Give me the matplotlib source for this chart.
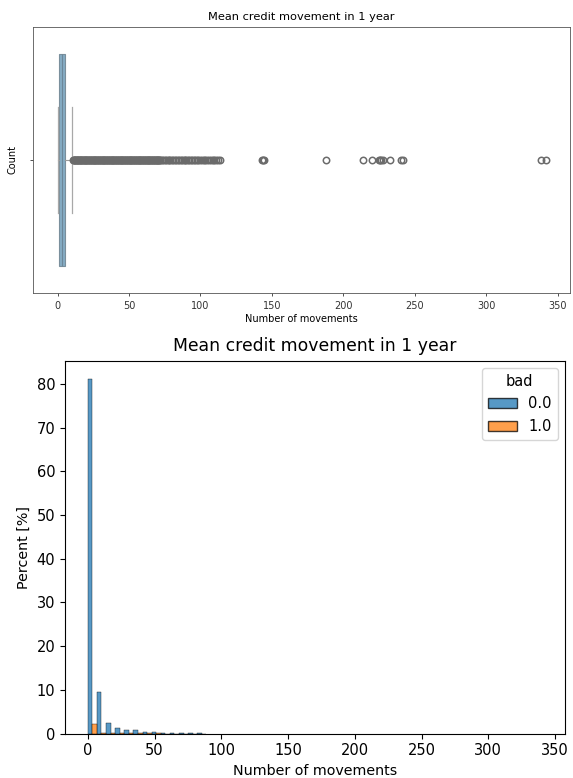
import numpy as np
import matplotlib
matplotlib.use("Agg")
import matplotlib.pyplot as plt
from matplotlib.patches import Patch

# ---- data -------------------------------------------------------------
title = "Mean credit movement in 1 year"
xlabel = "Number of movements"

# box statistics of the mean yearly credit movements
box_q1 = 1.1
box_median = 2.8
box_q3 = 5.1
whisker_low = 0.0
whisker_high = 10.2
outliers = [
    10.8, 11.2, 11.6, 12.0, 12.4, 12.9, 13.3, 13.7, 14.1, 14.6, 15.0, 15.4,
    15.9, 16.3, 16.7, 17.1, 17.6, 18.0, 18.5, 18.9, 19.3, 19.8, 20.2, 20.7,
    21.1, 21.6, 22.0, 22.5, 22.9, 23.4, 23.8, 24.3, 24.7, 25.2, 25.6, 26.1,
    26.5, 27.0, 27.4, 27.9, 28.3, 28.8, 29.2, 29.7, 30.1, 30.6, 31.0, 31.5,
    31.9, 32.4, 32.8, 33.3, 33.7, 34.2, 34.6, 35.1, 35.5, 36.0, 36.4, 36.9,
    37.3, 37.8, 38.2, 38.7, 39.1, 39.6, 40.0, 40.5, 40.9, 41.4, 41.8, 42.3,
    42.7, 43.2, 43.6, 44.1, 44.5, 45.0, 45.4, 45.9, 46.3, 46.8, 47.2, 47.7,
    48.1, 48.6, 49.0, 49.5, 49.9, 50.4, 50.8, 51.3, 51.7, 52.2, 52.6, 53.1,
    53.5, 54.0, 54.4, 54.9, 55.3, 55.8, 56.2, 56.7, 57.1, 57.6, 58.0, 58.5,
    58.9, 59.4, 59.8, 60.3, 60.7, 61.2, 61.6, 62.1, 62.5, 63.0, 63.4, 63.9,
    64.3, 64.8, 65.2, 65.7, 66.1, 66.6, 67.0, 67.5, 67.9, 68.4, 68.8, 69.3,
    69.7, 70.2, 70.6, 71.1, 71.5, 72.0,
    73.0, 74.0, 75.1, 76.0, 77.2, 78.1, 79.0, 80.2, 81.0, 82.1, 83.0, 84.2,
    85.0, 86.1, 87.0, 88.3, 89.2, 90.1, 91.4, 92.2, 93.5, 94.3, 95.6, 96.4,
    97.7, 98.6, 100.0, 101.2, 102.5, 103.4, 104.6, 106.0, 107.3, 108.5,
    109.8, 111.0, 112.5, 113.5,
    143.0, 143.6, 144.2, 188.0, 213.5, 220.0, 224.8, 225.6, 226.4, 227.4,
    232.8, 240.6, 241.4, 338.5, 341.5,
]

# histogram (percent of all accounts) per bin, split by the "bad" flag
bin_width = 6.83
percent_good = [81.2, 9.6, 2.5, 1.3, 0.9, 0.7, 0.45, 0.25, 0.2, 0.15, 0.12, 0.1, 0.08]
percent_bad = [2.1, 0.2, 0.07, 0.04, 0.03, 0.02, 0.01, 0.01, 0.0, 0.0, 0.0, 0.0, 0.0]
hue_title = "bad"
hue_labels = ["0.0", "1.0"]
x_ticks = [0, 50, 100, 150, 200, 250, 300, 350]
y_ticks = [0, 10, 20, 30, 40, 50, 60, 70, 80]

# ---- figure -----------------------------------------------------------
fig = plt.figure(figsize=(5.73, 7.78), dpi=100)
W, H = 573, 778


def axes_px(left, top, right, bottom):
    return fig.add_axes([left / W, 1 - bottom / H, (right - left) / W, (bottom - top) / H])


# top panel: horizontal box plot
ax1 = axes_px(32.5, 27, 570, 293)
stats = [dict(med=box_median, q1=box_q1, q3=box_q3,
              whislo=whisker_low, whishi=whisker_high, fliers=outliers)]
ax1.bxp(stats, positions=[0], widths=0.8, vert=False, patch_artist=True,
        boxprops=dict(facecolor="#85acc4", edgecolor="#7a8f9c", linewidth=0.8),
        whiskerprops=dict(color="#9a9a9a", linewidth=0.8),
        capprops=dict(color="#a8a8a8", linewidth=0.9),
        medianprops=dict(color="#6c8799", linewidth=0.8),
        flierprops=dict(marker="o", markersize=4.6, markerfacecolor="none",
                        markeredgecolor="#6b6b6b", markeredgewidth=1.1),
        capwidths=0.4)
ax1.set_ylim(0.5, -0.5)
ax1.set_xlim(-17.5, 358.5)
ax1.set_yticks([0])
ax1.set_yticklabels([""])
ax1.set_xticks(x_ticks)
ax1.tick_params(labelsize=7, length=2.5, width=0.6, colors="#333333")
ax1.set_ylabel("Count", fontsize=7, labelpad=5)
ax1.set_xlabel(xlabel, fontsize=7, labelpad=2)
ax1.set_title(title, fontsize=8.2, pad=5)
for s in ax1.spines.values():
    s.set_linewidth(0.6)
    s.set_color("#555555")

# bottom panel: dodged histogram
ax2 = axes_px(65, 361, 565, 733.5)
bin_left = np.arange(len(percent_good)) * bin_width
half = bin_width / 2
ax2.bar(bin_left, percent_good, width=half, align="edge", color="#1f77b4",
        alpha=0.75, edgecolor="black", linewidth=0.35)
ax2.bar(bin_left + half, percent_bad, width=half, align="edge", color="#ff7f0e",
        alpha=0.75, edgecolor="black", linewidth=0.35)
ax2.set_xlim(-17.1, 357.5)
ax2.set_ylim(0, 85.3)
ax2.set_xticks(x_ticks)
ax2.set_yticks(y_ticks)
ax2.tick_params(labelsize=10.5)
ax2.set_xlabel(xlabel, fontsize=10.3)
ax2.set_ylabel("Percent [%]", fontsize=10.3)
ax2.set_title(title, fontsize=12.4, pad=7)
handles = [Patch(facecolor="#1f77b4", alpha=0.75, edgecolor="black", linewidth=1),
           Patch(facecolor="#ff7f0e", alpha=0.75, edgecolor="black", linewidth=1)]
ax2.legend(handles, hue_labels, title=hue_title, loc="upper right",
           fontsize=10.5, title_fontsize=10.5)

fig.savefig("out.png", dpi=100)
